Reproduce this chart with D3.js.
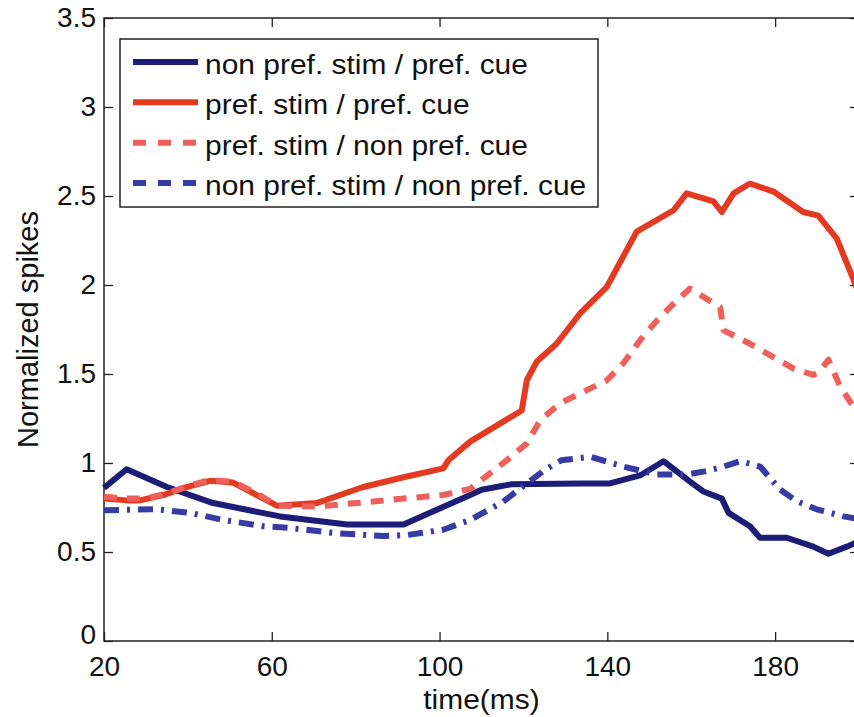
<html>
<head>
<style>
  body { margin: 0; background: #fff; }
  svg { display: block; font-family: "Liberation Sans", Arial, Helvetica, sans-serif; }
</style>
<script src="https://cdn.jsdelivr.net/npm/d3@7"></script>
</head>
<body>
<svg id="chart"></svg>
<script>
// --- data ---
let seriesNames = [
  "non pref. stim / pref. cue",
  "pref. stim / pref. cue",
  "pref. stim / non pref. cue",
  "non pref. stim / non pref. cue"
];

let tNonPrefPref = [20, 25.4, 35, 46, 62, 78, 91.4, 107.3, 110, 117, 133.5, 140.6, 147.8, 153.4, 159.7, 162.9, 167.3, 168.9, 174, 176.4, 182.8, 189.1, 192.7, 197.1, 200];
let vNonPrefPref = [0.86, 0.965, 0.865, 0.775, 0.70, 0.655, 0.655, 0.82, 0.85, 0.88, 0.885, 0.885, 0.93, 1.01, 0.895, 0.84, 0.80, 0.72, 0.645, 0.58, 0.58, 0.53, 0.49, 0.53, 0.56];

let tPrefPref = [20, 25.4, 28.6, 34.1, 39.7, 45.3, 50.8, 56.4, 61.2, 70.7, 81.8, 91.4, 100.9, 102.1, 107.3, 119.6, 120.8, 123.2, 127.9, 133.5, 139.9, 147, 155.8, 158.9, 165.3, 167.3, 170.1, 174, 179.6, 186.7, 190.3, 194.7, 198.7, 200];
let vPrefPref = [0.80, 0.79, 0.79, 0.82, 0.865, 0.90, 0.89, 0.82, 0.76, 0.775, 0.865, 0.92, 0.97, 1.015, 1.12, 1.295, 1.465, 1.57, 1.67, 1.84, 1.99, 2.30, 2.42, 2.515, 2.47, 2.41, 2.515, 2.57, 2.525, 2.41, 2.39, 2.26, 2.03, 1.95];

let tPrefNonPref = [20, 25.4, 30, 35, 40, 45.3, 50.8, 56.4, 61.2, 70.7, 80.2, 91.4, 100.9, 107.3, 116, 120.8, 124, 128.7, 134.3, 139.9, 143.8, 147.8, 151.8, 155.8, 159.7, 166.9, 167.7, 173.2, 179.6, 184.4, 189.1, 190.5, 192.7, 195.5, 198.7, 200];
let vPrefNonPref = [0.81, 0.80, 0.80, 0.83, 0.87, 0.905, 0.895, 0.83, 0.76, 0.755, 0.775, 0.80, 0.82, 0.855, 1.015, 1.11, 1.24, 1.335, 1.40, 1.465, 1.56, 1.69, 1.80, 1.895, 1.98, 1.875, 1.745, 1.68, 1.595, 1.53, 1.495, 1.51, 1.58, 1.43, 1.315, 1.27];

let tNonPrefNonPref = [20, 32.6, 40.5, 48.4, 58, 64.3, 75.5, 86.6, 92.2, 100.9, 107.3, 115, 120, 125, 129, 135.9, 143.8, 151.8, 158.9, 163.7, 167.7, 171.6, 176.4, 181.2, 185.2, 189.9, 196.3, 200];
let vNonPrefNonPref = [0.735, 0.74, 0.72, 0.68, 0.645, 0.635, 0.605, 0.59, 0.595, 0.625, 0.68, 0.78, 0.87, 0.96, 1.015, 1.035, 0.98, 0.935, 0.935, 0.955, 0.98, 1.01, 0.98, 0.85, 0.785, 0.74, 0.70, 0.685];

let xTicks = [20, 60, 100, 140, 180];
let yTicks = [0, 0.5, 1, 1.5, 2, 2.5, 3, 3.5];

// --- styles ---
let series = [
  { name: seriesNames[0], t: tNonPrefPref, v: vNonPrefPref, color: "#1d1d78", dash: null, legendDash: null },
  { name: seriesNames[1], t: tPrefPref, v: vPrefPref, color: "#e43a22", dash: null, legendDash: null },
  { name: seriesNames[2], t: tPrefNonPref, v: vPrefNonPref, color: "#f0605a", dash: "13,10", legendDash: "13,12" },
  { name: seriesNames[3], t: tNonPrefNonPref, v: vNonPrefNonPref, color: "#3a3aa6", dash: "15,8,3,8", legendDash: "13,12" }
];

let width = 854, height = 717;
let plot = { left: 104, right: 859, top: 18, bottom: 641 };

let svg = d3.select("#chart").attr("width", width).attr("height", height);

let x = d3.scaleLinear().domain([20, 200]).range([plot.left, plot.right]);
let y = d3.scaleLinear().domain([0, 3.5]).range([plot.bottom, plot.top]);

// axes (ticks inside, like matlab)
let axisColor = "#222";
let tickLen = 9;

let gx = svg.append("g")
  .attr("transform", `translate(0,${plot.bottom})`)
  .call(d3.axisBottom(x).tickValues(xTicks).tickFormat(d3.format("d"))
    .tickSizeInner(-tickLen).tickSizeOuter(0).tickPadding(15));
let gy = svg.append("g")
  .attr("transform", `translate(${plot.left},0)`)
  .call(d3.axisLeft(y).tickValues(yTicks).tickFormat(d => d)
    .tickSizeInner(-tickLen).tickSizeOuter(0).tickPadding(8));
let gxTop = svg.append("g")
  .attr("transform", `translate(0,${plot.top})`)
  .call(d3.axisTop(x).tickValues(xTicks).tickFormat("").tickSizeInner(-tickLen).tickSizeOuter(0));
let gyRight = svg.append("g")
  .attr("transform", `translate(${plot.right},0)`)
  .call(d3.axisRight(y).tickValues(yTicks).tickFormat("").tickSizeInner(-tickLen).tickSizeOuter(0));

[gx, gy, gxTop, gyRight].forEach(g => {
  g.select(".domain").remove();
  g.selectAll("line").attr("stroke", axisColor).attr("stroke-width", 1.3);
  g.selectAll("text").attr("fill", "#111").style("font-size", "28px")
    .style("font-family", "'Liberation Sans', Arial, sans-serif");
});
// the "0" sits just above the "20", as in the original
gy.selectAll(".tick text").filter(d => d === 0).attr("dy", "0.1em");

svg.append("rect")
  .attr("x", plot.left).attr("y", plot.top)
  .attr("width", plot.right - plot.left).attr("height", plot.bottom - plot.top)
  .attr("fill", "none").attr("stroke", axisColor).attr("stroke-width", 1.5);

// lines
let line = d3.line().x(d => x(d[0])).y(d => y(d[1]));
series.forEach(s => {
  let pts = s.t.map((t, i) => [t, s.v[i]]);
  svg.append("path")
    .datum(pts)
    .attr("d", line)
    .attr("fill", "none")
    .attr("stroke", s.color)
    .attr("stroke-width", 6)
    .attr("stroke-linejoin", "round")
    .attr("stroke-dasharray", s.dash);
});

// axis labels
svg.append("text")
  .attr("transform", `translate(${(plot.left + plot.right) / 2},709) scale(1.07,1)`)
  .attr("text-anchor", "middle")
  .style("font-size", "28px").attr("fill", "#111")
  .text("time(ms)");

svg.append("text")
  .attr("transform", `translate(38,${(plot.top + plot.bottom) / 2}) rotate(-90)`)
  .attr("text-anchor", "middle")
  .style("font-size", "29px").attr("fill", "#111")
  .text("Normalized spikes");

// legend
let legend = svg.append("g");
legend.append("rect")
  .attr("x", 120).attr("y", 39).attr("width", 478).attr("height", 168)
  .attr("fill", "#fff").attr("stroke", axisColor).attr("stroke-width", 1.5);

let rowY = d3.scalePoint().domain(seriesNames).range([62, 183]);
series.forEach(s => {
  let ry = rowY(s.name);
  legend.append("line")
    .attr("x1", 133).attr("x2", 198).attr("y1", ry).attr("y2", ry)
    .attr("stroke", s.color).attr("stroke-width", 6)
    .attr("stroke-dasharray", s.legendDash);
  legend.append("text")
    .attr("transform", `translate(205,${ry + 12}) scale(1.07,1)`)
    .style("font-size", "28px").attr("fill", "#111")
    .text(s.name);
});
</script>
</body>
</html>
